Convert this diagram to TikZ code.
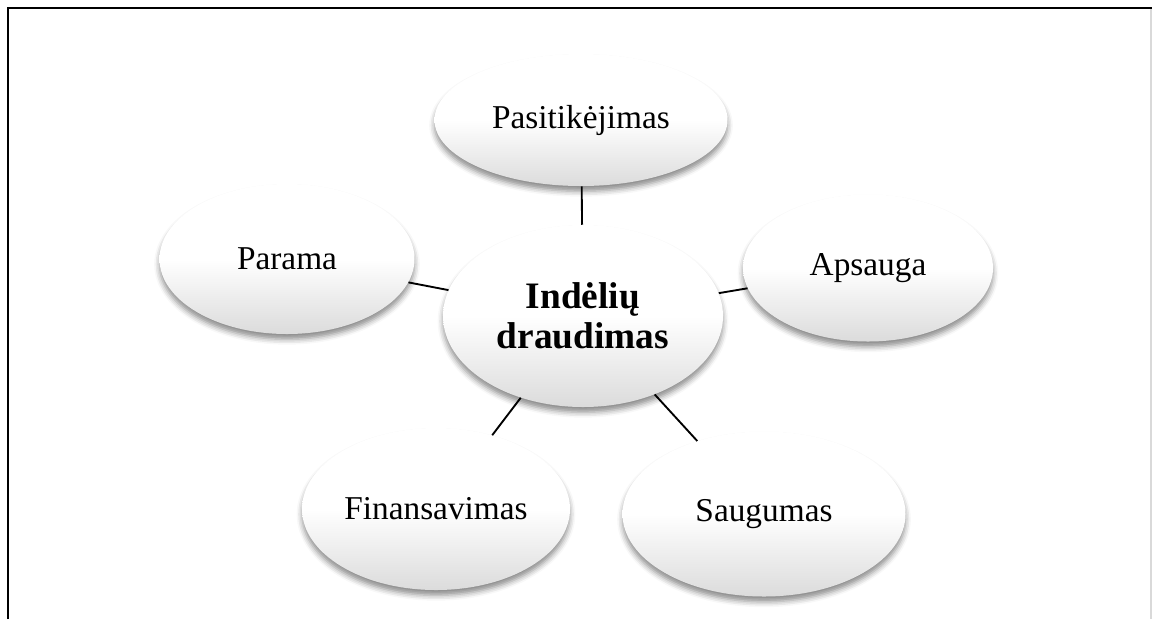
\documentclass[tikz,border=0pt]{standalone}
\usepackage{fontspec}
\setmainfont{Liberation Serif}
\usetikzlibrary{shapes,shadows.blur}

\begin{document}
\begin{tikzpicture}[x=0.75pt,y=-0.75pt,
	bubble/.style={ellipse,inner sep=0pt,top color=white,bottom color=black!14,middle color=white,
		blur shadow={shadow xshift=0pt,shadow yshift=-4pt,shadow blur radius=4pt,shadow opacity=45},
		font=\fontsize{25}{30}\selectfont,align=center}]
		\useasboundingbox (0,0) rectangle (1152,619);
		% frame
		\draw[black!15,line width=1pt] (1151,8) -- (1151,619);
		\draw[line width=1.5pt] (8,619) -- (8,8) -- (1152,8);
		%
		\node[bubble,minimum width=210pt,minimum height=136.5pt,font=\fontsize{28}{30}\selectfont\bfseries] (deposit) at (583,316) {Indėlių\\draudimas};
		\node[bubble,minimum width=219.75pt,minimum height=99pt] (trust) at (581,120) {Pasitikėjimas};
		\node[bubble,minimum width=187.5pt,minimum height=110.25pt] (protect) at (868,268) {Apsauga};
		\node[bubble,minimum width=212.25pt,minimum height=123.75pt] (safety) at (764,514) {Saugumas};
		\node[bubble,minimum width=201pt,minimum height=121.5pt] (funding) at (436,509) {Finansavimas};
		\node[bubble,minimum width=191.25pt,minimum height=112.5pt] (support) at (287,259) {Parama};
		%
		\path[-,line width=1.4pt]
		% spokes
		(deposit) edge (trust)
		(deposit) edge (protect)
		(deposit) edge (safety)
		(deposit) edge (funding)
		(deposit) edge (support);
\end{tikzpicture}
\end{document}
